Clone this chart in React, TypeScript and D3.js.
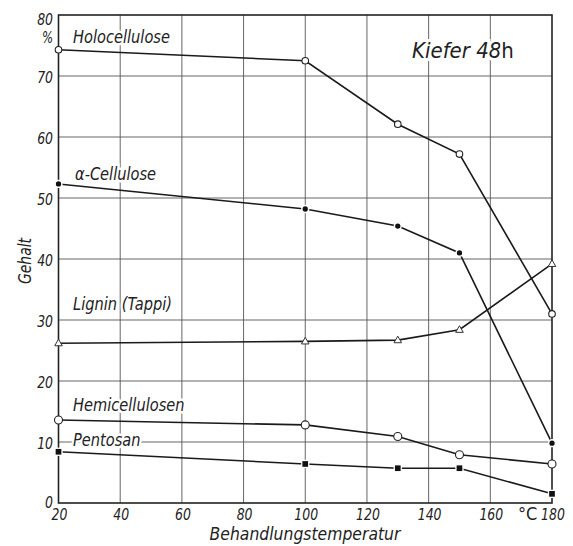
import React from 'react';
import * as d3 from 'd3';

const temps = [20, 100, 130, 150, 180];
const holocellulose = [74.3, 72.5, 62.1, 57.2, 31.0];
const alphaCellulose = [52.3, 48.2, 45.4, 41.0, 9.8];
const lignin = [26.2, 26.5, 26.7, 28.4, 39.2];
const hemicellulosen = [13.6, 12.8, 10.9, 7.9, 6.4];
const pentosan = [8.4, 6.4, 5.7, 5.7, 1.5];

const xTicks = [20, 40, 60, 80, 100, 120, 140, 160, 180];
const yTicks = [0, 10, 20, 30, 40, 50, 60, 70, 80];

const series = [
  { name: 'Holocellulose', values: holocellulose, marker: 'openCircle', label: [73, 43] },
  { name: 'α-Cellulose', values: alphaCellulose, marker: 'dot', label: [75, 180] },
  { name: 'Lignin (Tappi)', values: lignin, marker: 'triangle', label: [73, 310] },
  { name: 'Hemicellulosen', values: hemicellulosen, marker: 'bigCircle', label: [73, 411] },
  { name: 'Pentosan', values: pentosan, marker: 'square', label: [73, 446] },
];

const font = "'DejaVu Sans', sans-serif";

// narrow italic lettering like the stencil type of the original
const T = ({ x, y, size = 16, anchor = 'start', italic = true, halo = 0, sx = 0.78, children }: any) => (
  <text
    transform={`translate(${x},${y}) scale(${sx},1)`}
    fontSize={size}
    textAnchor={anchor}
    fontStyle={italic ? 'italic' : 'normal'}
    stroke={halo ? '#fff' : undefined}
    strokeWidth={halo || undefined}
    paintOrder="stroke"
  >
    {children}
  </text>
);

const App = () => {
  const width = 573;
  const height = 546;
  const x = d3.scaleLinear().domain([20, 180]).range([58.5, 552]);
  const y = d3.scaleLinear().domain([0, 80]).range([503, 15]);
  const line = d3.line<number>().x((_, i) => x(temps[i])).y(d => y(d));

  const marker = (kind: string, cx: number, cy: number, key: string) => {
    switch (kind) {
      case 'openCircle':
        return <circle key={key} cx={cx} cy={cy} r={3.3} fill="#fff" stroke="#222" strokeWidth={1.1} />;
      case 'bigCircle':
        return <circle key={key} cx={cx} cy={cy} r={4} fill="#fff" stroke="#222" strokeWidth={1.1} />;
      case 'dot':
        return <circle key={key} cx={cx} cy={cy} r={3.4} fill="#111" stroke="#fff" strokeWidth={1.5} />;
      case 'triangle':
        return (
          <path key={key} d={`M${cx},${cy - 4}L${cx + 3.8},${cy + 2.6}L${cx - 3.8},${cy + 2.6}Z`}
            fill="#fff" stroke="#333" strokeWidth={1} />
        );
      case 'square':
        return <rect key={key} x={cx - 3.5} y={cy - 3.5} width={7} height={7} fill="#111" stroke="#fff" strokeWidth={1.3} />;
      default:
        return null;
    }
  };

  return (
    <svg width={width} height={height} style={{ position: 'absolute', left: 0, top: 0, background: '#fff' }}>
      <rect width={width} height={height} fill="#fff" />
      {/* grid */}
      <g stroke="#555" strokeWidth={0.9}>
        {xTicks.slice(1, -1).map(t => (
          <line key={'gx' + t} x1={x(t)} x2={x(t)} y1={y(0)} y2={y(80)} />
        ))}
        {yTicks.slice(1, -1).map(t => (
          <line key={'gy' + t} x1={x(20)} x2={x(180)} y1={y(t)} y2={y(t)} />
        ))}
      </g>
      {/* series labels with white backing */}
      <g fontFamily={font} fill="#222">
        {series.map(s => (
          <T key={s.name} x={s.label[0]} y={s.label[1]} size={17} halo={5} sx={0.86}>{s.name}</T>
        ))}
        <T x={412} y={58} size={22} halo={6} sx={0.9}>
          Kiefer 48<tspan fontStyle="normal">h</tspan>
        </T>
      </g>
      {/* frame */}
      <rect x={x(20)} y={y(80)} width={x(180) - x(20)} height={y(0) - y(80)} fill="none" stroke="#222" strokeWidth={1.6} />
      {/* series */}
      {series.map(s => (
        <g key={s.name}>
          <path d={line(s.values) || ''} fill="none" stroke="#1a1a1a" strokeWidth={1.6} />
          {s.values.map((v, i) => marker(s.marker, x(temps[i]), y(v), s.name + i))}
        </g>
      ))}
      {/* axis text */}
      <g fontFamily={font} fill="#222">
        {yTicks.map(t => (
          <T key={'yt' + t} x={53} y={t === 80 ? y(t) + 10 : t === 0 ? y(t) + 5 : y(t) + 7} size={16} anchor="end">{t}</T>
        ))}
        <T x={53} y={43} size={15} anchor="end">%</T>
        {xTicks.map(t => (
          <T key={'xt' + t} x={x(t) + 1} y={520} size={16} anchor="middle">{t}</T>
        ))}
        <T x={518} y={520} size={18} italic={false} sx={0.9}>°C</T>
        <T x={305} y={540} size={17} anchor="middle" sx={0.92}>Behandlungstemperatur</T>
        <text transform="translate(31,261) rotate(-90) scale(0.82,1)" textAnchor="middle" fontSize={17} fontStyle="italic">Gehalt</text>
      </g>
    </svg>
  );
};

export default App;
